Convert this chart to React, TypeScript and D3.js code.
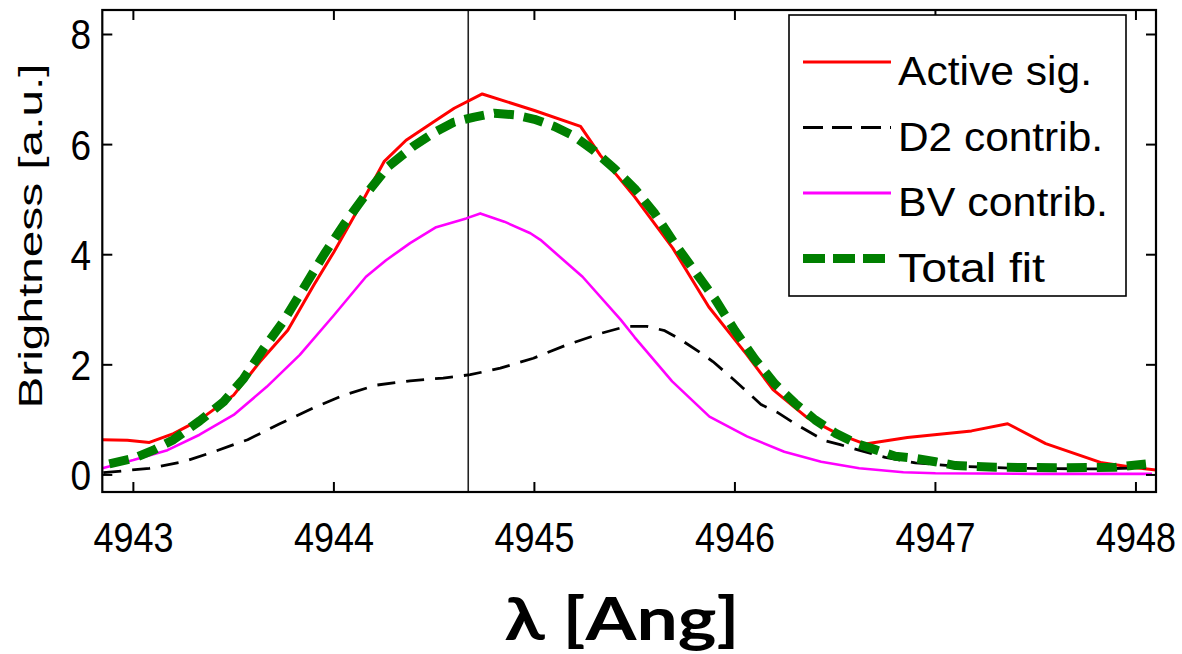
import React from "react";
import * as d3 from "d3";

// ---- Data ----
const activeLambda = [4942.845, 4942.97, 4943.08, 4943.2, 4943.33, 4943.5, 4943.63, 4943.77, 4943.9, 4944.0, 4944.12, 4944.25, 4944.36, 4944.5, 4944.6, 4944.74, 4945.0, 4945.23, 4945.33, 4945.5, 4945.69, 4945.87, 4946.06, 4946.19, 4946.36, 4946.51, 4946.65, 4946.86, 4947.18, 4947.36, 4947.55, 4947.83, 4948.0, 4948.1];
const activeSig = [0.64, 0.63, 0.59, 0.75, 1.0, 1.45, 2.05, 2.63, 3.45, 4.05, 4.82, 5.69, 6.08, 6.42, 6.66, 6.92, 6.62, 6.33, 5.8, 5.05, 4.12, 3.05, 2.18, 1.55, 1.04, 0.75, 0.56, 0.68, 0.8, 0.93, 0.57, 0.22, 0.13, 0.09];

const d2Lambda = [4942.85, 4943.08, 4943.25, 4943.4, 4943.57, 4943.73, 4943.9, 4944.05, 4944.21, 4944.38, 4944.545, 4944.68, 4944.83, 4944.995, 4945.16, 4945.33, 4945.46, 4945.56, 4945.65, 4945.72, 4945.82, 4945.89, 4945.985, 4946.04, 4946.13, 4946.21, 4946.3, 4946.376, 4946.45, 4946.525, 4946.618, 4946.75, 4946.9, 4947.1, 4947.4, 4947.8, 4948.05];
const d2Contrib = [0.04, 0.12, 0.24, 0.42, 0.64, 0.93, 1.22, 1.45, 1.63, 1.71, 1.76, 1.82, 1.94, 2.12, 2.36, 2.57, 2.7, 2.7, 2.62, 2.48, 2.24, 2.06, 1.76, 1.58, 1.28, 1.14, 0.93, 0.77, 0.62, 0.55, 0.45, 0.32, 0.22, 0.16, 0.12, 0.11, 0.13];

const bvLambda = [4942.845, 4943.0, 4943.17, 4943.33, 4943.5, 4943.665, 4943.83, 4944.0, 4944.16, 4944.26, 4944.38, 4944.51, 4944.66, 4944.73, 4944.85, 4944.98, 4945.03, 4945.24, 4945.43, 4945.5, 4945.687, 4945.873, 4946.06, 4946.246, 4946.43, 4946.62, 4946.84, 4947.0, 4947.5, 4948.08];
const bvContrib = [0.12, 0.27, 0.45, 0.73, 1.09, 1.6, 2.18, 2.9, 3.6, 3.9, 4.21, 4.5, 4.66, 4.75, 4.6, 4.39, 4.27, 3.6, 2.82, 2.5, 1.7, 1.06, 0.7, 0.42, 0.24, 0.12, 0.05, 0.03, 0.02, 0.02];

const fitLambda = [4942.88, 4943.0, 4943.1, 4943.2, 4943.33, 4943.45, 4943.55, 4943.65, 4943.75, 4943.85, 4943.95, 4944.05, 4944.15, 4944.27, 4944.4, 4944.5, 4944.6, 4944.7, 4944.8, 4944.9, 4945.0, 4945.1, 4945.2, 4945.3, 4945.4, 4945.5, 4945.6, 4945.7, 4945.8, 4945.9, 4946.0, 4946.1, 4946.2, 4946.3, 4946.4, 4946.5, 4946.6, 4946.7, 4946.8, 4946.9, 4947.0, 4947.1, 4947.3, 4947.6, 4947.9, 4948.05];
const totalFit = [0.2, 0.3, 0.45, 0.64, 0.98, 1.33, 1.75, 2.3, 2.8, 3.4, 4.0, 4.55, 5.05, 5.6, 5.98, 6.22, 6.41, 6.5, 6.57, 6.54, 6.46, 6.33, 6.15, 5.88, 5.56, 5.2, 4.75, 4.2, 3.7, 3.2, 2.62, 2.1, 1.65, 1.3, 1.0, 0.76, 0.58, 0.46, 0.34, 0.3, 0.24, 0.17, 0.14, 0.13, 0.14, 0.2];

const markerLambda = 4944.67;

const xTicks = [4943, 4944, 4945, 4946, 4947, 4948];
const yTicks = [0, 2, 4, 6, 8];

const legendLabels = ["Active sig.", "D2 contrib.", "BV contrib.", "Total fit"];

const xLabel = "λ [Ang]";
const yLabel = "Brightness [a.u.]";

// ---- Layout ----
const W = 1182;
const H = 654;
const plotLeft = 102.3;
const plotRight = 1156;
const plotTop = 10;
const plotBottom = 492;

export default function App() {
  const x = d3.scaleLinear().domain([4942.845, 4948.1]).range([plotLeft, plotRight]);
  const y = d3.scaleLinear().domain([-0.31, 8.445]).range([plotBottom, plotTop]);

  const line = d3
    .line<[number, number]>()
    .x((d) => x(d[0]))
    .y((d) => y(d[1]));

  const zip = (a: number[], b: number[]) => a.map((v, i) => [v, b[i]] as [number, number]);

  const series = [
    { key: "active", d: line(zip(activeLambda, activeSig)), stroke: "#ff0000", width: 3, dash: undefined as string | undefined },
    { key: "bv", d: line(zip(bvLambda, bvContrib)), stroke: "#ff00ff", width: 2.6, dash: undefined },
    { key: "d2", d: line(zip(d2Lambda, d2Contrib)), stroke: "#000000", width: 2.8, dash: "18 11" },
    { key: "fit", d: line(zip(fitLambda, totalFit)), stroke: "#007f00", width: 9, dash: "20 10" },
  ];

  const legendStyles = [
    { stroke: "#ff0000", width: 3, dash: undefined as string | undefined },
    { stroke: "#000000", width: 2.8, dash: "20 9" },
    { stroke: "#ff00ff", width: 3, dash: undefined },
    { stroke: "#007f00", width: 9, dash: "22 8" },
  ];
  const legendWidths = [194, 205, 210, 147];

  const tickLen = 10;
  const font = "'Liberation Sans', Arial, Helvetica, sans-serif";

  return (
    <svg
      width={W}
      height={H}
      viewBox={`0 0 ${W} ${H}`}
      style={{ position: "absolute", left: 0, top: 0, display: "block", background: "#fff" }}
    >
      <rect x={0} y={0} width={W} height={H} fill="#fff" />
      <defs>
        <clipPath id="plotClip">
          <rect x={plotLeft} y={plotTop} width={plotRight - plotLeft} height={plotBottom - plotTop} />
        </clipPath>
      </defs>

      {/* data lines */}
      <g clipPath="url(#plotClip)" fill="none" strokeLinejoin="round">
        <line
          x1={x(markerLambda)}
          x2={x(markerLambda)}
          y1={plotTop}
          y2={plotBottom}
          stroke="#222"
          strokeWidth={1.6}
        />
        {series.map((s) => (
          <path
            key={s.key}
            d={s.d || ""}
            stroke={s.stroke}
            strokeWidth={s.width}
            strokeDasharray={s.dash}
            strokeLinecap="butt"
          />
        ))}
      </g>

      {/* axes box */}
      <rect
        x={plotLeft}
        y={plotTop}
        width={plotRight - plotLeft}
        height={plotBottom - plotTop}
        fill="none"
        stroke="#000"
        strokeWidth={2.2}
      />

      {/* x ticks */}
      {xTicks.map((t) => (
        <g key={"xt" + t}>
          <line x1={x(t)} x2={x(t)} y1={plotBottom} y2={plotBottom - tickLen} stroke="#000" strokeWidth={2} />
          <line x1={x(t)} x2={x(t)} y1={plotTop} y2={plotTop + tickLen} stroke="#000" strokeWidth={2} />
          <text
            transform={`translate(${x(t)}, 552) scale(1, 1.13)`}
            textAnchor="middle"
            fontFamily={font}
            fontSize={37}
            textLength={80}
            lengthAdjust="spacingAndGlyphs"
            fill="#000"
          >
            {t}
          </text>
        </g>
      ))}

      {/* y ticks */}
      {yTicks.map((t) => (
        <g key={"yt" + t}>
          <line x1={plotLeft} x2={plotLeft + tickLen} y1={y(t)} y2={y(t)} stroke="#000" strokeWidth={2} />
          <line x1={plotRight} x2={plotRight - tickLen} y1={y(t)} y2={y(t)} stroke="#000" strokeWidth={2} />
          <text
            transform={`translate(91, ${y(t) + 15}) scale(1, 1.13)`}
            textAnchor="end"
            fontFamily={font}
            fontSize={37}
            fill="#000"
          >
            {t}
          </text>
        </g>
      ))}

      {/* y label */}
      <text
        transform={`translate(42, 236) rotate(-90)`}
        textAnchor="middle"
        fontFamily={font}
        fontSize={34}
        textLength={345}
        lengthAdjust="spacingAndGlyphs"
        fill="#000"
      >
        {yLabel}
      </text>

      {/* x label */}
      <text
        x={622}
        y={640}
        textAnchor="middle"
        fontFamily="Lato, 'Open Sans', sans-serif"
        fontWeight="bold"
        fontSize={60}
        textLength={235}
        lengthAdjust="spacingAndGlyphs"
        fill="#000"
      >
        {xLabel}
      </text>

      {/* legend */}
      <g>
        <rect x={789} y={15} width={337} height={281} fill="#fff" stroke="#000" strokeWidth={1.6} />
        {legendLabels.map((lab, i) => {
          const ly = 62 + i * 65.5;
          const st = legendStyles[i];
          return (
            <g key={lab}>
              <line
                x1={803}
                x2={891}
                y1={ly}
                y2={ly}
                stroke={st.stroke}
                strokeWidth={st.width}
                strokeDasharray={st.dash}
              />
              <text
                x={898}
                y={ly + 23}
                fontFamily={font}
                fontSize={40}
                textLength={legendWidths[i]}
                lengthAdjust="spacingAndGlyphs"
                fill="#000"
              >
                {lab}
              </text>
            </g>
          );
        })}
      </g>
    </svg>
  );
}
